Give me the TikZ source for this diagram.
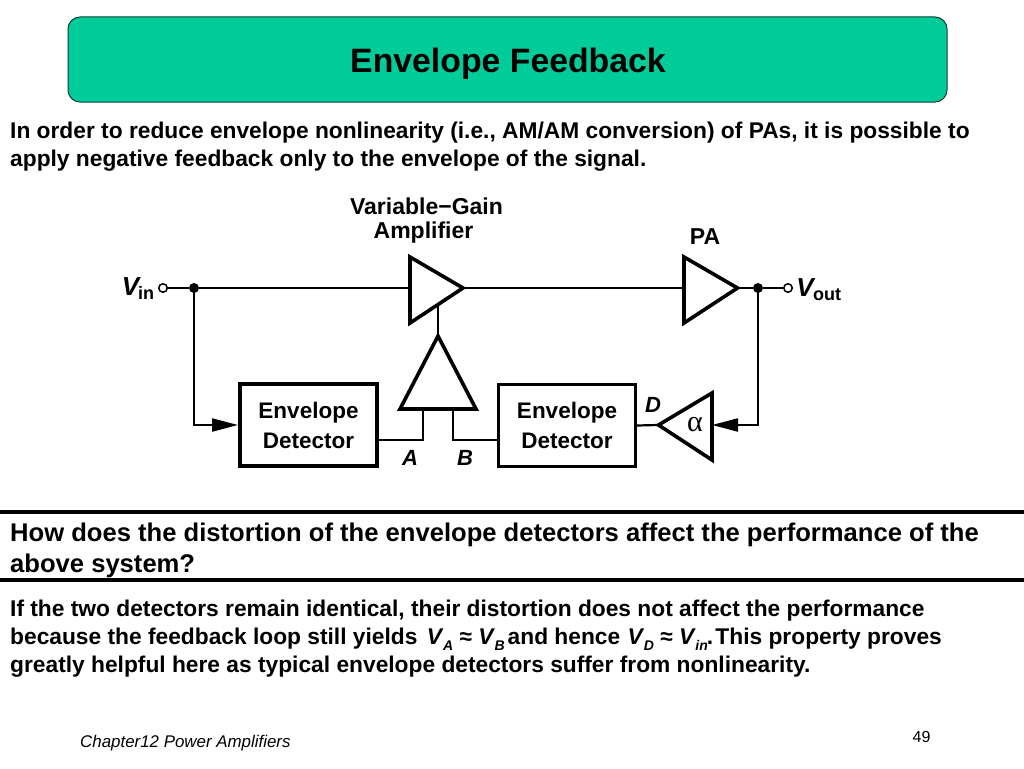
\documentclass[tikz,border=0pt]{standalone}
\usepackage{fontspec}
\setmainfont{Liberation Sans}
\newfontfamily\symfont{Liberation Serif}
\usetikzlibrary{arrows.meta,calc}
\newcommand{\fsz}[1]{\fontsize{#1}{#1}\selectfont}
\newcommand{\subi}[1]{\kern-0.5pt\raisebox{-0.28em}{\fsz{14}\textit{#1}}}
\definecolor{titlegreen}{HTML}{00CC99}
\definecolor{titleedge}{HTML}{123C38}
\tikzset{
  x=1pt,y=-1pt,
  wire/.style={line width=2.2pt,line join=miter},
  fedwire/.style={wire,-{Triangle[length=26pt,width=13pt,sep=0pt]}},
  ampshape/.style={draw=black,line width=3.6pt,line join=miter,miter limit=10},
  detbox/.style={draw=black,line width=4.4pt,inner sep=0pt,minimum width=136.6pt,minimum height=81.6pt,align=center,font=\fsz{22.5}\bfseries},
  port/.style={circle,draw=black,line width=1.5pt,fill=white,inner sep=0pt,minimum size=8.5pt},
  joint/.style={circle,fill=black,inner sep=0pt,minimum size=10pt},
  lbl/.style={font=\fsz{23}\bfseries,inner sep=0pt,anchor=base},
  ilbl/.style={font=\fsz{22}\bfseries\itshape,inner sep=0pt,anchor=base},
  txt/.style={font=\fsz{22.76}\bfseries,inner sep=0pt,anchor=base west},
  qtxt/.style={font=\fsz{25.6}\bfseries,inner sep=0pt,anchor=base west},
  rulebar/.style={line width=4pt},
}
\begin{document}
\begin{tikzpicture}
\useasboundingbox (0,0) rectangle (1024,768);
\node[draw=titleedge,line width=1pt,fill=titlegreen,rounded corners=12pt,minimum width=879pt,minimum height=85pt,inner sep=0pt] (titlebox) at (507.5,59.5) {};
\node[font=\fsz{33.8}\bfseries,inner sep=0pt,anchor=base] (title) at (508,72) {Envelope Feedback};
\node[txt] (intro1) at (10,138) {In order to reduce envelope nonlinearity (i.e., AM/AM conversion) of PAs, it is possible to};
\node[txt] (intro2) at (10,166) {apply negative feedback only to the envelope of the signal.};

% amplifier terminals
\coordinate (vgain) at (410,288);
\coordinate (vgaout) at (463,288);
\coordinate (vgabot) at (438,306);
\coordinate (pain) at (684,288);
\coordinate (paout) at (737.5,288);
\coordinate (diffout) at (438,336);
\coordinate (diffA) at (423,409);
\coordinate (diffB) at (453,409);
\coordinate (attin) at (712,425);
\coordinate (attout) at (658.5,425);
\coordinate (aend) at (377,440);
\coordinate (bend) at (498,440);

% amplifiers
\draw[ampshape] (410,257) -- (vgaout) -- (410,323) -- cycle;
\draw[ampshape] (684,257) -- (paout) -- (684,323) -- cycle;
\draw[ampshape] (diffout) -- (476,409) -- (400,409) -- cycle;
\draw[ampshape] (712,393) -- (attout) -- (712,460) -- cycle;
\node[font=\fsz{30}\symfont,inner sep=0pt] (alpha) at (695,425) {α};

% detectors
\node[detbox] (det1) at (308.5,425) {Envelope\\[7.5pt]Detector};
\node[detbox,line width=3.4pt] (det2) at (567,425.5) {Envelope\\[7.5pt]Detector};

% ports and joints
\node[port] (vin) at (163,288) {};
\node[port] (vout) at (788,288) {};
\node[joint] (jin) at (194,288) {};
\node[joint] (jout) at (758,288) {};

% connectors
\draw[wire] (vin) -- (jin);
\draw[wire] (jin) -- (vgain);
\draw[wire] (vgaout) -- (pain);
\draw[wire] (paout) -- (jout);
\draw[wire] (jout) -- (vout);
\draw[fedwire] (jin.center) |- (det1.west);
\draw[fedwire] (jout.center) |- (attin);
\draw[wire] (diffout) -- (vgabot);
\draw[wire] (aend) -| (diffA);
\draw[wire] (bend) -| (diffB);
\draw[wire] (det2.east) -- (attout);

% labels
\node[lbl] (vgal1) at (426.5,214) {Variable−Gain};
\node[lbl] (vgal2) at (423.5,238.5) {Amplifier};
\node[lbl] (pal) at (705,244.5) {PA};
\node[ilbl,font=\fsz{26}\bfseries\itshape] (vinv) at (130.5,295) {V};
\node[lbl,anchor=base west,font=\fsz{18}\bfseries] (vinsub) at (138,299) {in};
\node[ilbl,font=\fsz{26}\bfseries\itshape] (voutv) at (805,296) {V};
\node[lbl,anchor=base west,font=\fsz{18}\bfseries] (voutsub) at (813,300) {out};
\node[ilbl] (la) at (410,465) {A};
\node[ilbl] (lb) at (465,465) {B};
\node[ilbl] (ld) at (653,412) {D};

% rules and lower text
\draw[rulebar] (0,512) -- (1024,512);
\draw[rulebar] (0,579.5) -- (1024,579.5);
\node[qtxt] (q1) at (10,541) {How does the distortion of the envelope detectors affect the performance of the};
\node[qtxt] (q2) at (10,572) {above system?};
\node[txt] (ans1) at (10,616) {If the two detectors remain identical, their distortion does not affect the performance};
\node[txt] (ans2) at (10,644) {because the feedback loop still yields\kern3pt\ \textit{V}\subi{A} ≈ \textit{V}\subi{B}\kern3pt and hence\kern1pt\ \textit{V}\subi{D} ≈ \textit{V}\subi{in}\kern-1pt.\kern-4pt\ This property proves};
\node[txt] (ans3) at (10,672) {greatly helpful here as typical envelope detectors suffer from nonlinearity.};
\node[font=\fsz{16.9}\itshape,inner sep=0pt,anchor=base west] (foot) at (80,747) {Chapter12 Power Amplifiers};
\node[font=\fsz{16},inner sep=0pt,anchor=base] (page) at (921.5,742) {49};
\end{tikzpicture}
\end{document}
